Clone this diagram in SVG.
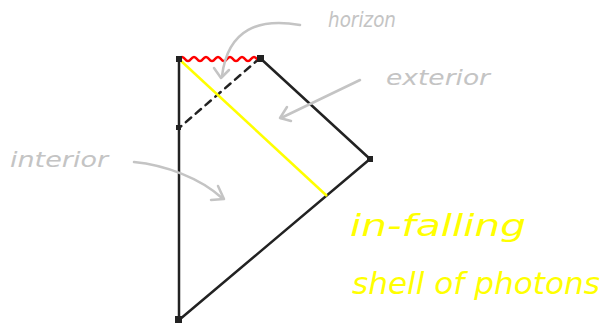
<svg xmlns="http://www.w3.org/2000/svg" width="604" height="326" viewBox="0 0 604 326">
<defs>
<style>
.edge{stroke:#222;stroke-width:2.5;fill:none;stroke-linecap:round}
.note{stroke:#c4c4c4;stroke-width:2.5;fill:none;stroke-linecap:round;stroke-linejoin:round}
.gl{font-family:"DejaVu Sans",sans-serif;font-style:italic;fill:#c4c4c4;font-size:22px}
.yl{font-family:"DejaVu Sans",sans-serif;font-style:italic;fill:#ffff00;font-size:30px}
</style>
</defs>
<rect width="604" height="326" fill="#fff"/>
<g id="connectors">
<line class="edge" x1="179" y1="59" x2="179" y2="320"/>
<line class="edge" x1="179" y1="320" x2="370" y2="159"/>
<line class="edge" x1="260" y1="58" x2="370" y2="159"/>
<line class="edge" x1="260" y1="58" x2="179" y2="128" stroke-dasharray="7,6"/>
<line x1="180" y1="60" x2="327" y2="196" stroke="#ffff00" stroke-width="2.5"/>
<path d="M179,59 q3,-4 6,0 t6,0 t6,0 t6,0 t6,0 t6,0 t6,0 t6,0 t6,0 t6,0 t6,0 t6,0 t6,0 t3,-1" stroke="#ff0000" stroke-width="2.5" fill="none"/>
</g>
<g id="corners" fill="#222">
<rect x="176" y="56" width="6" height="6"/>
<rect x="257" y="55" width="7" height="7"/>
<rect x="367" y="156" width="6" height="6"/>
<rect x="175" y="316" width="7" height="7"/>
<rect x="176" y="125" width="5" height="5"/>
</g>
<g id="horizon">
<text class="gl" x="328" y="27" font-size="25" textLength="68" lengthAdjust="spacingAndGlyphs">horizon</text>
<path class="note" d="M300,25 C260,18 228,28 222,76"/>
<path class="note" d="M214,68 L221,78 L229,70"/>
</g>
<g id="exterior">
<text class="gl" x="386" y="85" textLength="104" lengthAdjust="spacingAndGlyphs">exterior</text>
<path class="note" d="M360,80 L281,118"/>
<path class="note" d="M287,107 L280,118 L291,121"/>
</g>
<g id="interior">
<text class="gl" x="10" y="167" textLength="98" lengthAdjust="spacingAndGlyphs">interior</text>
<path class="note" d="M134,162 C165,165 200,178 222,198"/>
<path class="note" d="M218,186 L224,199 L211,200"/>
</g>
<g id="shell">
<text class="yl" x="350" y="236" textLength="176" lengthAdjust="spacingAndGlyphs">in-falling</text>
<text class="yl" x="352" y="294" textLength="248" lengthAdjust="spacingAndGlyphs">shell of photons</text>
</g>
</svg>
